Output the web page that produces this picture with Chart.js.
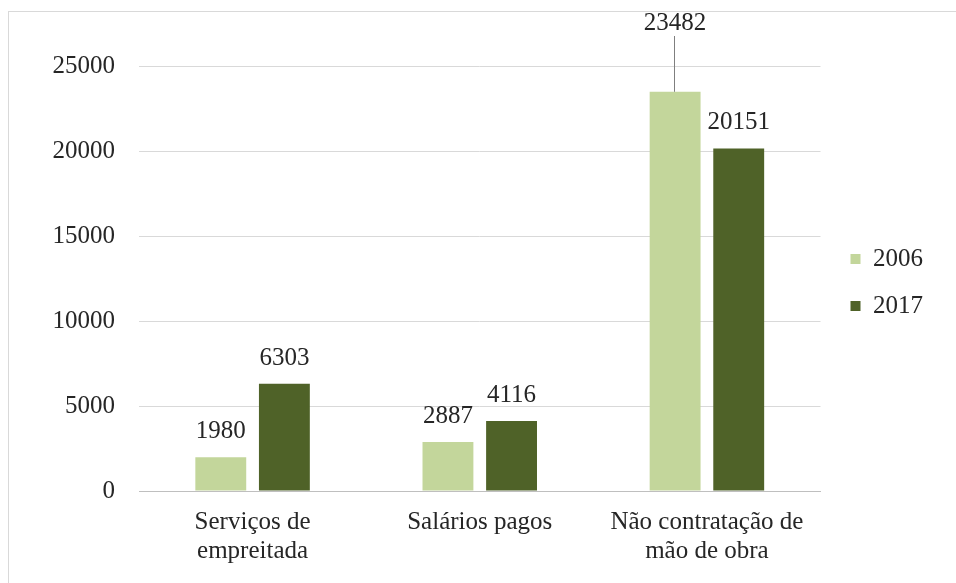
<!DOCTYPE html>
<html>
<head>
<meta charset="utf-8">
<script src="https://cdn.jsdelivr.net/npm/chart.js@4/dist/chart.umd.min.js"></script>
<style>
  body { margin: 0; background: #fff; }
  #caixa {
    position: absolute; left: 8px; top: 11px;
    width: 948px; height: 572px;
    border-left: 1px solid #d9d9d9; border-top: 1px solid #d9d9d9;
    box-sizing: border-box;
  }
  canvas { display: block; }
</style>
</head>
<body>
<div id="caixa"><canvas id="grafico" width="947" height="571"></canvas></div>
<script>
const categorias = [['Serviços de', 'empreitada'], 'Salários pagos', ['Não contratação de', 'mão de obra']];
const anos = ['2006', '2017'];
const valores2006 = [1980, 2887, 23482];
const valores2017 = [6303, 4116, 20151];
const ticksY = [0, 5000, 10000, 15000, 20000, 25000];

const fonte = { family: '"Liberation Serif", "Times New Roman", serif', size: 25 };

// rótulos de valor acima das barras
const rotulos = {
  id: 'rotulos',
  afterDatasetsDraw(chart) {
    const ctx = chart.ctx;
    const topo = chart.chartArea.top;
    ctx.save();
    ctx.font = `${fonte.size}px ${fonte.family}`;
    ctx.fillStyle = '#262626';
    ctx.textAlign = 'center';
    ctx.textBaseline = 'alphabetic';
    chart.data.datasets.forEach((ds, i) => {
      chart.getDatasetMeta(i).data.forEach((barra, j) => {
        const txt = String(ds.data[j]);
        let y = barra.y - 19;
        if (y - 20 < topo) {
          // rótulo levantado com linha guia
          y = 18;
          ctx.strokeStyle = '#7f7f7f';
          ctx.lineWidth = 1;
          ctx.beginPath();
          ctx.moveTo(Math.round(barra.x) - 0.5, y + 6);
          ctx.lineTo(Math.round(barra.x) - 0.5, barra.y);
          ctx.stroke();
        }
        ctx.fillText(txt, barra.x, y);
      });
    });
    ctx.restore();
  }
};

// posiciona a legenda ao lado da área do gráfico
const ajusteLegenda = {
  id: 'ajusteLegenda',
  afterLayout(chart) {
    const lg = chart.legend;
    const dy = (chart.chartArea.top + chart.chartArea.bottom) / 2 + 4 - (lg.top + lg.bottom) / 2;
    const dx = chart.chartArea.right + 8 - lg.left;
    lg.top += dy; lg.bottom += dy;
    lg.left += dx; lg.right += dx;
  }
};

new Chart(document.getElementById('grafico').getContext('2d'), {
  type: 'bar',
  data: {
    labels: categorias,
    datasets: [
      { label: anos[0], data: valores2006, backgroundColor: '#c3d69b' },
      { label: anos[1], data: valores2017, backgroundColor: '#4f6228' }
    ]
  },
  options: {
    responsive: false,
    animation: false,
    categoryPercentage: 0.56,
    barPercentage: 0.8,
    layout: { padding: { top: 54, right: 31, left: 0, bottom: 0 } },
    plugins: {
      legend: {
        position: 'right',
        labels: {
          boxWidth: 10, boxHeight: 10, padding: 22,
          color: '#262626', font: fonte
        }
      },
      tooltip: { enabled: false }
    },
    scales: {
      y: {
        min: 0, max: 25000,
        afterFit(s) { s.width = 130; },
        afterBuildTicks(s) { s.ticks = ticksY.map(v => ({ value: v })); },
        border: { display: false },
        grid: { color: '#d9d9d9', drawTicks: false },
        ticks: { padding: 24, color: '#262626', font: fonte, callback: v => String(v) }
      },
      x: {
        afterFit(s) { s.height = 92; },
        border: { color: '#bfbfbf' },
        grid: { display: false },
        ticks: { padding: 9, color: '#262626', font: { ...fonte, lineHeight: 1.15 } }
      }
    }
  },
  plugins: [rotulos, ajusteLegenda]
});
</script>
</body>
</html>
